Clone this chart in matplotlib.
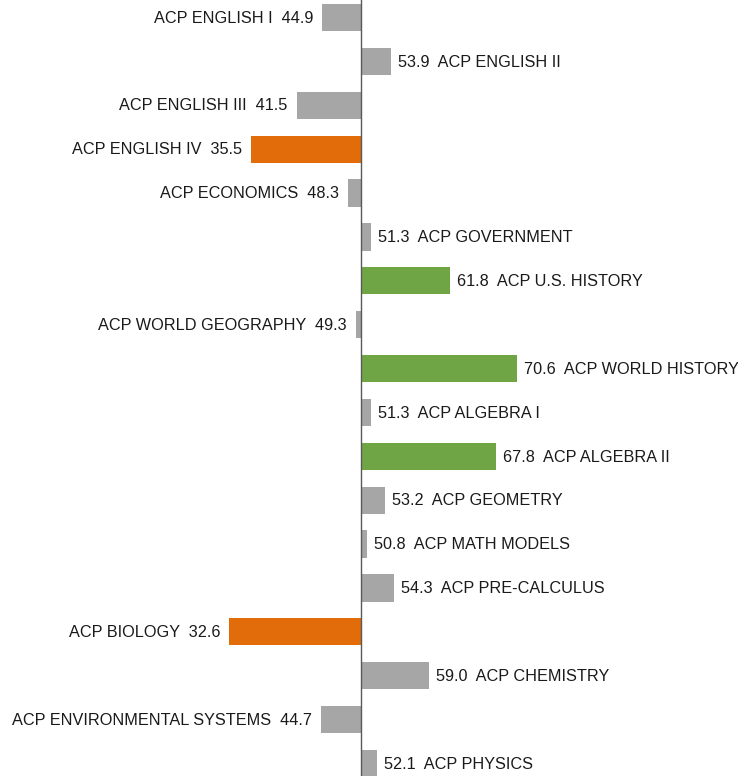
import matplotlib
matplotlib.use("Agg")
import matplotlib.pyplot as plt

subjects = ["ACP ENGLISH I", "ACP ENGLISH II", "ACP ENGLISH III", "ACP ENGLISH IV",
            "ACP ECONOMICS", "ACP GOVERNMENT", "ACP U.S. HISTORY", "ACP WORLD GEOGRAPHY",
            "ACP WORLD HISTORY", "ACP ALGEBRA I", "ACP ALGEBRA II", "ACP GEOMETRY",
            "ACP MATH MODELS", "ACP PRE-CALCULUS", "ACP BIOLOGY", "ACP CHEMISTRY",
            "ACP ENVIRONMENTAL SYSTEMS", "ACP PHYSICS"]
scores = [44.9, 53.9, 41.5, 35.5, 48.3, 51.3, 61.8, 49.3, 70.6, 51.3, 67.8, 53.2,
          50.8, 54.3, 32.6, 59.0, 44.7, 52.1]
groups = ["gray", "gray", "gray", "low", "gray", "gray", "high", "gray", "high", "gray",
          "high", "gray", "gray", "gray", "low", "gray", "gray", "gray"]
baseline = 50

color_map = {"gray": "#A6A6A6", "low": "#E36C0A", "high": "#70A546"}

plt.rcParams['font.family'] = ['Liberation Sans', 'DejaVu Sans']
fig = plt.figure(figsize=(7.38, 7.76), dpi=100)
ax = fig.add_axes([0, 0, 1, 1])

ys = list(range(len(subjects)))
for y, name, v, g in zip(ys, subjects, scores, groups):
    ax.barh(y, v - baseline, left=baseline, height=0.62, color=color_map[g], edgecolor='none')
    if v < baseline:
        ax.annotate(f"{name}  {v:.1f}", xy=(v, y), xytext=(-6.5, -0.5), textcoords='offset points',
                    ha='right', va='center', fontsize=11.7, color='#1a1a1a')
    else:
        ax.annotate(f"{v:.1f}  {name}", xy=(v, y), xytext=(5, -0.5), textcoords='offset points',
                    ha='left', va='center', fontsize=11.7, color='#1a1a1a')

ax.axvline(baseline, color='#595959', linewidth=1.0)
ax.set_xlim(2.3, 99.8)
ax.set_ylim(17.285, -0.399)
ax.axis('off')

fig.savefig("out.png", dpi=100)
